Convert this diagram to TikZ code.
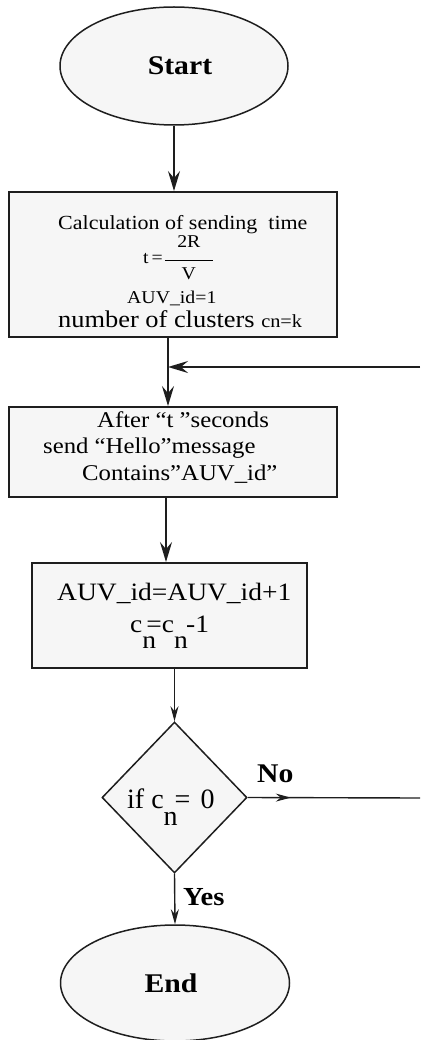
\documentclass[tikz,border=0pt]{standalone}
\usepackage{fontspec}
\setmainfont{Liberation Serif}[FakeStretch=1.1]
\newfontfamily\plainserif{Liberation Serif}
\usetikzlibrary{arrows.meta,shapes.geometric,decorations.markings}
\definecolor{shapefill}{HTML}{F6F6F6}
\definecolor{edgecol}{HTML}{1E1E1E}
\tikzset{
 term/.style={ellipse,draw=edgecol,line width=1.5pt,fill=shapefill,inner sep=0pt,font=\fontsize{27}{30}\selectfont\bfseries},
 procbox/.style={rectangle,draw=edgecol,line width=1.9pt,fill=shapefill,inner sep=0pt},
 decide/.style={diamond,draw=edgecol,line width=1.5pt,fill=shapefill,inner sep=0pt},
 txt/.style={inner sep=0pt,anchor=base west,text=black},
 bigarrow/.style={draw=edgecol,line width=1.9pt,-{Stealth[length=20pt,width=12pt,inset=7pt]}},
 smallarrow/.style={draw=edgecol,line width=1.4pt,-{Stealth[length=15pt,width=8pt,inset=5pt]}},
 thinline/.style={draw=edgecol,line width=1.4pt},
 lbl/.style={inner sep=0pt,anchor=base west,font=\fontsize{27}{30}\selectfont\bfseries},
}
\begin{document}
\begin{tikzpicture}[x=1pt,y=-1pt]
\useasboundingbox (0,0) rectangle (420,1040);
% shapes
\node[term,minimum width=228pt,minimum height=118pt] (s) at (174,66) {\hspace*{12pt}Start};
\node[procbox,minimum width=328pt,minimum height=145pt] (b1) at (173,264.5) {};
\node[procbox,minimum width=328pt,minimum height=90pt] (b2) at (173,452) {};
\node[procbox,minimum width=275pt,minimum height=105pt] (b3) at (169.5,615.5) {};
\node[decide,minimum width=145pt,minimum height=151pt] (d) at (174.5,797.5) {};
\node[term,minimum width=229pt,minimum height=116pt] (e) at (175,983) {End\hspace*{8pt}};
% box 1 text
\node[txt,font=\fontsize{20}{24}\selectfont] (t1a) at (58,230) {Calculation of sending\ \ time};
\node[txt,font=\fontsize{18}{22}\selectfont] (t1b) at (143,264) {t\hspace{3pt}=\hspace{2pt}\rlap{\raisebox{16pt}{\hbox to 48pt{\hss 2R\hss}}}\rlap{\raisebox{3pt}{\rule{48pt}{1pt}}}\raisebox{-16pt}{\hbox to 48pt{\hss V\hss}}};
\node[txt,font=\fontsize{18}{22}\selectfont] (t1c) at (127,303) {AUV\_id=1};
\node[txt] (t1d) at (58,327) {\fontsize{24}{28}\selectfont number of clusters \fontsize{18.5}{20}\selectfont cn=k};
% box 2 text
\node[txt,font=\fontsize{22.5}{26}\selectfont] (t2a) at (97,427) {After “t ”seconds};
\node[txt,font=\fontsize{22.5}{26}\selectfont] (t2b) at (43,453) {send “Hello”message};
\node[txt,font=\fontsize{22.5}{26}\selectfont] (t2c) at (82,480) {Contains”AUV\_id”};
% box 3 text
\node[txt,font=\fontsize{25}{28}\selectfont] (t3a) at (57,600) {AUV\_id=AUV\_id+1};
\node[txt,font=\fontsize{25}{28}\selectfont] (t3b) at (130,632) {c\rlap{\raisebox{-16pt}{n}}\hspace{4pt}=c\rlap{\raisebox{-16pt}{n}}\hspace{12pt}-1};
% diamond text
\node[txt,font=\plainserif\fontsize{28}{30}\selectfont] (td) at (127,808) {if c\rlap{\raisebox{-17pt}{n}}\hspace{11pt}=\hspace{10pt}0};
% labels
\node[lbl] (no) at (257,782) {No};
\node[lbl,font=\fontsize{26}{30}\selectfont\bfseries] (yes) at (183,905) {Yes};
% coordinates
\coordinate (j) at (168,367);
\coordinate (r1) at (420,367);
\coordinate (r2) at (420,798);
% connectors
\draw[bigarrow] (s.south) -- (s.south |- b1.north);
\draw[bigarrow] (b1.south -| j) -- (b2.north -| j);
\draw[bigarrow] (r1) -- (j);
\draw[bigarrow] ([xshift=-7pt]b2.south) -- ([xshift=-7pt]b2.south |- b3.north);
\draw[smallarrow] (b3.south -| d.north) -- (d.north);
\draw[smallarrow] (d.south) -- (e.north);
\draw[thinline,postaction={decorate},decoration={markings,mark=at position 0.25 with {\arrow{Stealth[length=15pt,width=8pt,inset=5pt]}}}] (d.east) -- (r2);
\end{tikzpicture}
\end{document}
